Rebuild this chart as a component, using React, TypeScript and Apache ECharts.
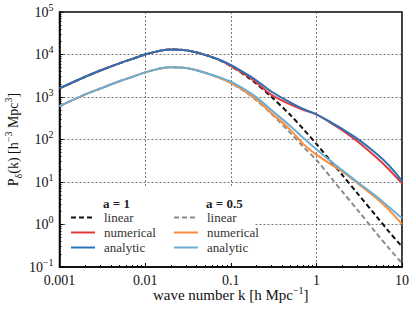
import React, { useEffect, useRef } from "react";
import * as echarts from "echarts";

const FONT = "'Liberation Serif', 'DejaVu Serif', serif";

// wave number k [h/Mpc]
const kValues = [0.001, 0.002, 0.003, 0.005, 0.007, 0.01, 0.015, 0.02, 0.025, 0.03, 0.04, 0.05, 0.07, 0.1, 0.15, 0.2, 0.3, 0.5, 0.7, 1, 1.5, 2, 3, 5, 7, 10];

// a = 1
const linearA1 = [1600, 3000, 4200, 6200, 7800, 10000, 12300, 13200, 13000, 12600, 11200, 9800, 7760, 5370, 3160, 2040, 1000, 372, 178, 79, 29.5, 14.8, 5.5, 1.58, 0.69, 0.3];
const numericalA1 = [1600, 3000, 4200, 6200, 7800, 10000, 12300, 13200, 13000, 12600, 11200, 9800, 7760, 5430, 3310, 2190, 1120, 660, 500, 390, 240, 166, 91, 38, 20, 9.3];
const analyticA1 = [1600, 3000, 4200, 6200, 7800, 10000, 12300, 13200, 13000, 12600, 11200, 9800, 7850, 5700, 3550, 2450, 1330, 740, 525, 390, 250, 178, 105, 47, 25, 10.5];

// a = 0.5
const linearA05 = [610, 1150, 1580, 2340, 2950, 3800, 4680, 5010, 4950, 4790, 4270, 3720, 2950, 2140, 1290, 830, 398, 141, 68, 33, 12.3, 6.0, 2.24, 0.63, 0.28, 0.123];
const numericalA05 = [610, 1150, 1580, 2340, 2950, 3800, 4680, 5010, 4950, 4790, 4270, 3720, 2950, 2140, 1320, 870, 417, 166, 79, 44, 25.7, 17.8, 9.5, 4.2, 2.24, 1.02];
const analyticA05 = [610, 1150, 1580, 2340, 2950, 3800, 4680, 5010, 4950, 4790, 4270, 3720, 3020, 2290, 1450, 980, 490, 204, 110, 59, 30, 19, 10, 4.6, 2.6, 1.4];

// axis ranges
const xMin = 0.001;
const xMax = 10;
const yMin = 0.1;
const yMax = 100000;

// minor tick positions (log10 of 2..9 times each decade)
const minorMultipliers = [2, 3, 4, 5, 6, 7, 8, 9];
const xDecades = [-3, -2, -1, 0];
const yDecades = [-1, 0, 1, 2, 3, 4];
const xMinorLogs = xDecades.flatMap((e) => minorMultipliers.map((m) => Math.log10(m) + e));
const yMinorLogs = yDecades.flatMap((e) => minorMultipliers.map((m) => Math.log10(m) + e));

const seriesDefs = [
  { name: "linear (a = 1)", values: linearA1, color: "#111111", type: [5, 3] as any },
  { name: "numerical (a = 1)", values: numericalA1, color: "#e0393e", type: "solid" },
  { name: "analytic (a = 1)", values: analyticA1, color: "#2a72b3", type: "solid" },
  { name: "linear (a = 0.5)", values: linearA05, color: "#8c8c8c", type: [5, 3] as any },
  { name: "numerical (a = 0.5)", values: numericalA05, color: "#fd8d3c", type: "solid" },
  { name: "analytic (a = 0.5)", values: analyticA05, color: "#6aaed6", type: "solid" },
];

const supRich = {
  sup: { fontSize: 10, lineHeight: 10, verticalAlign: "top", fontFamily: FONT, color: "#111" },
  sub: { fontSize: 10, lineHeight: 10, verticalAlign: "bottom", fontFamily: FONT, color: "#111" },
};

const tickStyle = { color: "#000", width: 1 };
const gridLine = { show: true, lineStyle: { color: "#555", type: [2, 2] as any, width: 0.8 } };

const legendBase = {
  orient: "vertical",
  top: 211,
  padding: 0,
  itemWidth: 24,
  itemHeight: 14,
  itemGap: 2,
  selectedMode: false,
  itemStyle: { opacity: 0 },
  formatter: (n: string) => n.split(" (")[0],
  textStyle: { fontFamily: FONT, fontSize: 13, color: "#333", padding: [0, 0, 0, 4] },
};

export default function App() {
  const ref = useRef<HTMLDivElement>(null);
  useEffect(() => {
    const chart = echarts.init(ref.current!, null, { renderer: "svg" });
    const option: any = {
      animation: false,
      backgroundColor: "#fff",
      textStyle: { fontFamily: FONT },
      grid: {
        left: 59.5,
        right: 14,
        top: 12,
        bottom: 46,
        containLabel: false,
        outerBoundsMode: "none",
        show: true,
        borderColor: "#000",
        borderWidth: 1.5,
        backgroundColor: "transparent",
      },
      xAxis: [
        {
          type: "log",
          logBase: 10,
          min: xMin,
          max: xMax,
          interval: 1,
          axisLine: { show: true, onZero: false, lineStyle: { color: "#000", width: 1.5 } },
          axisTick: { show: true, inside: true, length: 4, lineStyle: tickStyle },
          axisLabel: {
            fontFamily: FONT,
            fontSize: 14,
            color: "#111",
            margin: 6,
            formatter: (v: number) => (v >= 1 ? String(Math.round(v)) : v.toPrecision(1)),
          },
          splitLine: gridLine,
          name: "wave number k [h Mpc{sup|−1}]",
          nameLocation: "middle",
          nameMoveOverlap: false,
          nameGap: 18,
          nameTextStyle: { fontFamily: FONT, fontSize: 15, color: "#111", lineHeight: 20, rich: supRich },
        },
        {
          type: "value",
          min: -3,
          max: 1,
          position: "bottom",
          axisLine: { show: false, onZero: false },
          axisTick: { show: true, inside: true, length: 2, customValues: xMinorLogs, lineStyle: tickStyle },
          axisLabel: { show: false },
          splitLine: { show: false },
        },
      ],
      yAxis: [
        {
          type: "log",
          logBase: 10,
          min: yMin,
          max: yMax,
          interval: 1,
          axisLine: { show: true, onZero: false, lineStyle: { color: "#000", width: 1.5 } },
          axisTick: { show: true, inside: true, length: 4, lineStyle: tickStyle },
          axisLabel: {
            fontFamily: FONT,
            fontSize: 14,
            color: "#111",
            lineHeight: 20,
            margin: 6,
            rich: supRich,
            formatter: (v: number) => {
              const e = Math.round(Math.log10(v));
              return "10{sup|" + (e < 0 ? "−" + -e : String(e)) + "}";
            },
          },
          splitLine: gridLine,
          name: "P{sub|δ}(k) [h{sup|−3} Mpc{sup|3}]",
          nameLocation: "middle",
          nameRotate: 90,
          nameMoveOverlap: false,
          nameGap: 36,
          nameTextStyle: { fontFamily: FONT, fontSize: 14, color: "#111", lineHeight: 20, rich: supRich },
        },
        {
          type: "value",
          min: -1,
          max: 5,
          position: "left",
          axisLine: { show: false, onZero: false },
          axisTick: { show: true, inside: true, length: 2, customValues: yMinorLogs, lineStyle: tickStyle },
          axisLabel: { show: false },
          splitLine: { show: false },
        },
      ],
      legend: [
        { ...legendBase, left: 70, data: seriesDefs.slice(0, 3).map((s) => s.name) },
        { ...legendBase, left: 173, data: seriesDefs.slice(3).map((s) => s.name) },
      ],
      graphic: [
        {
          type: "rect",
          shape: { x: 66, y: 188, width: 188, height: 75 },
          style: { fill: "#fff" },
          z: 1,
          silent: true,
        },
        {
          type: "text",
          x: 103,
          y: 203,
          z: 5,
          style: { text: "a = 1", fontFamily: FONT, fontSize: 13, fontWeight: "bold", fill: "#222", verticalAlign: "middle" },
        },
        {
          type: "text",
          x: 206,
          y: 203,
          z: 5,
          style: { text: "a = 0.5", fontFamily: FONT, fontSize: 13, fontWeight: "bold", fill: "#222", verticalAlign: "middle" },
        },
      ],
      series: seriesDefs.map((s) => ({
        name: s.name,
        type: "line",
        xAxisIndex: 0,
        yAxisIndex: 0,
        data: kValues.map((k, i) => [k, s.values[i]]),
        showSymbol: false,
        symbol: "none",
        smooth: 0.3,
        lineStyle: { color: s.color, width: 2, type: s.type },
        itemStyle: { color: s.color },
        z: 3,
      })),
    };
    chart.setOption(option);
    return () => chart.dispose();
  }, []);
  return <div ref={ref} style={{ position: "fixed", left: 0, top: 0, width: 416, height: 313 }} />;
}
